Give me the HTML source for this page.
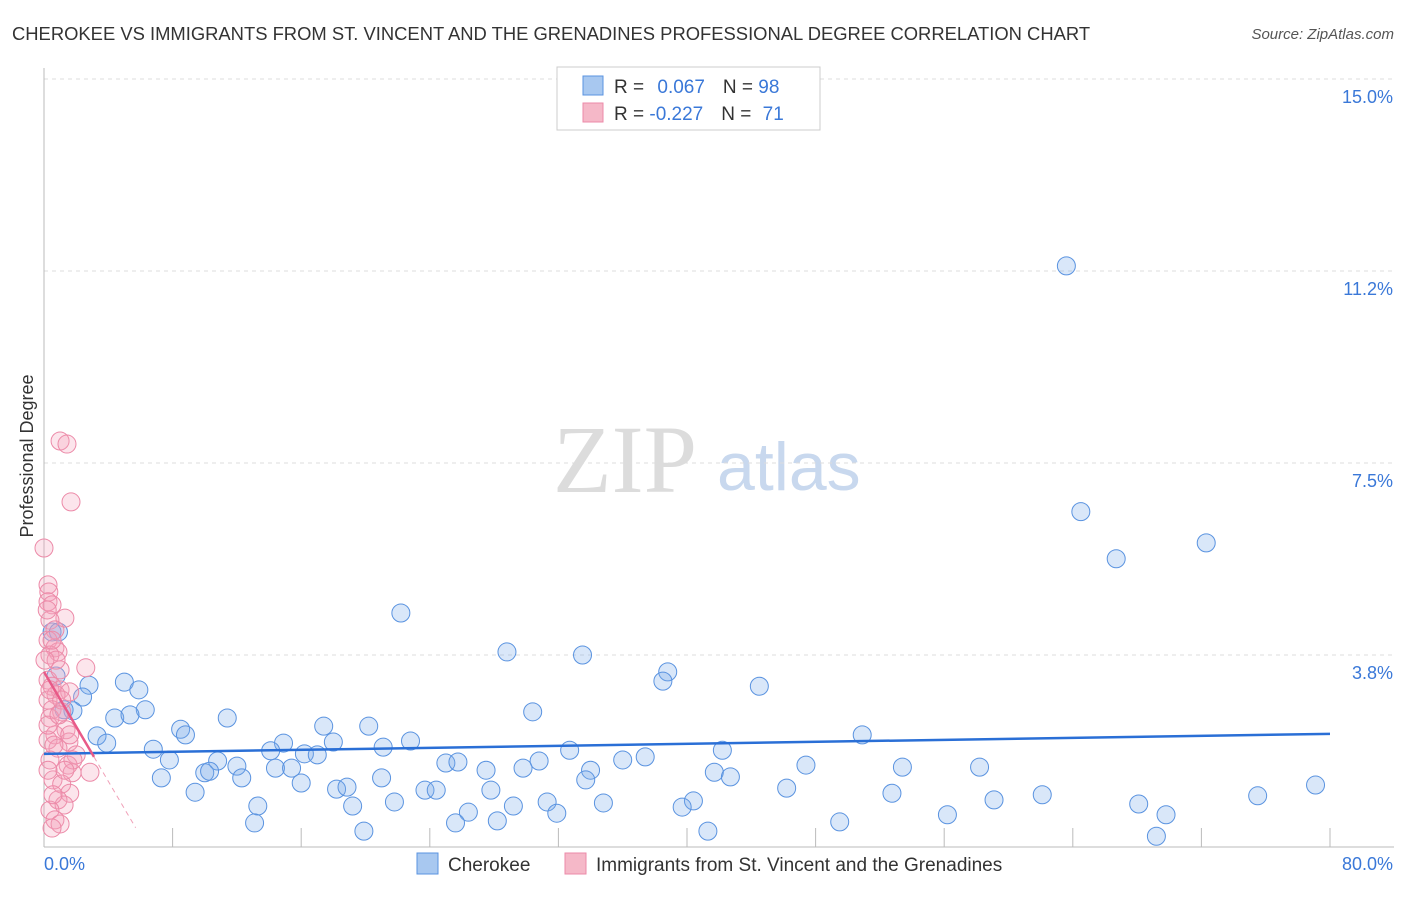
<!DOCTYPE html>
<html><head><meta charset="utf-8"><style>
body{margin:0;background:#fff;font-family:"Liberation Sans",sans-serif}
</style></head><body>
<svg id="chart" width="1406" height="892" xmlns="http://www.w3.org/2000/svg">
<text x="12" y="40" font-size="18.4" fill="#333">CHEROKEE VS IMMIGRANTS FROM ST. VINCENT AND THE GRENADINES PROFESSIONAL DEGREE CORRELATION CHART</text>
<text x="1394" y="39" font-size="15" fill="#555" text-anchor="end" font-style="italic">Source: ZipAtlas.com</text>
<text x="33" y="456" font-size="18" fill="#333" text-anchor="middle" transform="rotate(-90 33 456)">Professional Degree</text>
<g><text x="553" y="492" font-family="Liberation Serif,serif" font-size="96" fill="#dcdcdc">ZIP</text><text x="717" y="490" font-size="68" fill="#c8d8ee">atlas</text></g>
<g id="grid"></g><g id="axes"></g><g id="marks"></g><g id="trend"></g>
<g>
<rect x="557" y="67" width="263" height="63" fill="#fff" stroke="#ccc"/>
<rect x="583" y="76" width="20" height="19" fill="#a8c8f0" stroke="#5a93e0"/>
<rect x="583" y="103" width="20" height="19" fill="#f5b8c8" stroke="#ec8aa8"/>
<text x="614" y="93" font-size="19" fill="#333">R = <tspan fill="#3a78d8" dx="8">0.067</tspan><tspan dx="18" fill="#333">N = </tspan><tspan fill="#3a78d8">98</tspan></text>
<text x="614" y="120" font-size="19" fill="#333">R = <tspan fill="#3a78d8">-0.227</tspan><tspan dx="18" fill="#333">N = </tspan><tspan fill="#3a78d8" dx="6">71</tspan></text>
</g>
<g>
<rect x="417" y="853" width="21" height="21" fill="#a8c8f0" stroke="#5a93e0"/>
<text x="448" y="871" font-size="19" fill="#333">Cherokee</text>
<rect x="565" y="853" width="21" height="21" fill="#f5b8c8" stroke="#ec8aa8"/>
<text x="596" y="871" font-size="19" fill="#333">Immigrants from St. Vincent and the Grenadines</text>
</g>
</svg>
<script>
const yTicks=[3.75,7.5,11.25,15];
const yTickLabels=["3.8%","7.5%","11.2%","15.0%"];
const xTickLabels=["0.0%","80.0%"];
const blueX=[63.6,64.5,66.7,72.3,22.2,28.8,33.5,38.8,38.5,44.5,2.8,5.0,5.9,2.4,1.8,6.3,4.4,5.35,11.4,30.4,8.5,8.8,17.4,20.2,3.3,3.9,18.0,22.8,14.9,21.1,6.8,14.1,32.7,42.2,50.9,16.2,17.0,7.8,10.8,25.0,25.75,27.5,29.8,30.8,36.0,37.4,34.0,12.0,14.4,15.4,47.4,53.4,58.2,7.3,10.0,10.3,12.3,16.0,21.0,41.7,42.7,33.7,18.2,18.85,23.7,24.4,27.8,46.2,52.75,62.1,75.5,79.1,9.4,59.1,21.8,31.3,34.8,40.4,13.3,19.2,26.4,29.2,39.7,68.1,31.9,56.2,69.8,13.1,25.6,28.2,49.5,19.9,41.3,69.2,0.5,0.75,1.25,0.9];
const blueY=[11.35,6.55,5.63,5.94,4.57,3.81,3.75,3.42,3.24,3.14,3.16,3.22,3.07,2.93,2.66,2.68,2.52,2.58,2.52,2.64,2.30,2.19,2.36,2.36,2.17,2.03,2.05,2.07,2.03,1.95,1.91,1.88,1.89,1.89,2.19,1.82,1.80,1.70,1.68,1.64,1.66,1.50,1.54,1.68,1.70,1.76,1.50,1.58,1.54,1.54,1.60,1.56,1.56,1.35,1.45,1.48,1.35,1.25,1.35,1.46,1.37,1.31,1.13,1.17,1.11,1.11,1.11,1.15,1.05,1.02,1.00,1.21,1.07,0.92,0.88,0.88,0.86,0.90,0.80,0.80,0.68,0.80,0.78,0.84,0.66,0.63,0.63,0.47,0.47,0.51,0.49,0.31,0.31,0.21,4.2,3.34,2.68,4.2];
const pinkX=[1.0,1.43,1.68,0,0.25,0.3,0.25,0.5,1.3,0.37,0.68,0.25,0.68,0.87,0.37,2.6,0.25,0.5,1.0,1.6,0.75,0.25,0.5,1.1,0.37,1.37,0.68,0.25,1.55,0.87,2.0,0.37,1.5,1.75,2.86,0.56,1.1,1.6,0.87,1.25,0.37,0.68,1.0,0.5,0.25,1.0,0.75,0.62,1.8,1.3,0.37,1.1,0.25,0.56,0.06,0.2,0.5,1.6,0.93];
const pinkY=[7.93,7.87,6.74,5.84,5.12,4.98,4.79,4.73,4.47,4.43,4.24,4.04,3.89,3.81,3.75,3.50,3.26,3.14,3.07,3.03,2.97,2.87,2.68,2.64,2.52,2.29,2.19,2.09,2.05,1.93,1.80,1.70,1.60,1.45,1.46,1.31,1.23,1.05,0.92,0.82,0.72,0.53,0.45,0.37,2.38,3.46,3.65,1.99,1.70,1.50,3.07,2.87,1.50,1.02,3.65,4.63,4.04,2.19,2.58];
const blueTrend=[1.82,2.21];
const pinkTrend=[3.42,-0.534];
const X0=44,X1=1330,Y0=847,PPY=51.2;
const sx=v=>X0+(X1-X0)*v/80;
const sy=v=>Y0-v*PPY;
const NS="http://www.w3.org/2000/svg";
function mk(p,t,a){const e=document.createElementNS(NS,t);for(const k in a)e.setAttribute(k,a[k]);p.appendChild(e);return e;}
const grid=document.getElementById('grid'),axes=document.getElementById('axes'),marks=document.getElementById('marks'),trend=document.getElementById('trend');
yTicks.forEach((t,i)=>{
const g=mk(grid,'line',{x1:X0,x2:1394,y1:sy(t),y2:sy(t),stroke:'#ddd','stroke-dasharray':'4,4'});


const l=mk(axes,'text',{x:1393,y:sy(t)+24,'font-size':18,fill:'#3a78d8','text-anchor':'end'});
l.textContent=yTickLabels[i];


});
const ya=mk(axes,'line',{x1:X0,x2:X0,y1:68,y2:Y0,stroke:'#bbb'});


const xa=mk(axes,'line',{x1:X0,x2:1394,y1:Y0,y2:Y0,stroke:'#bbb'});


for(let i=1;i<=10;i++){
const t=mk(axes,'line',{x1:sx(i*8),x2:sx(i*8),y1:Y0,y2:Y0-19,stroke:'#bbb'});


}
const xl0=mk(axes,'text',{x:44,y:870,'font-size':18,fill:'#3a78d8'});xl0.textContent=xTickLabels[0];


const xl1=mk(axes,'text',{x:1393,y:870,'font-size':18,fill:'#3a78d8','text-anchor':'end'});xl1.textContent=xTickLabels[1];


blueX.forEach((x,i)=>{
const c=mk(marks,'circle',{cx:sx(x),cy:sy(blueY[i]),r:9,fill:'rgba(120,170,235,0.28)',stroke:'#5a93e0','stroke-width':1});


});
pinkX.forEach((x,i)=>{
const c=mk(marks,'circle',{cx:sx(x),cy:sy(pinkY[i]),r:9,fill:'rgba(245,160,185,0.28)',stroke:'#ec8aa8','stroke-width':1});


});
const bl=mk(trend,'line',{x1:sx(0),y1:sy(blueTrend[0]),x2:sx(80),y2:sy(blueTrend[1]),stroke:'#2a6fd6','stroke-width':2.5});


const pf=x=>pinkTrend[0]+pinkTrend[1]*x;
const pl=mk(trend,'line',{x1:sx(0),y1:sy(pf(0)),x2:sx(3.11),y2:sy(pf(3.11)),stroke:'#e85a88','stroke-width':2.5});


const pd=mk(trend,'line',{x1:sx(3.11),y1:sy(pf(3.11)),x2:sx(5.7),y2:sy(pf(5.7)),stroke:'#f0a0b8','stroke-width':1,'stroke-dasharray':'5,4'});


</script>
</body></html>
